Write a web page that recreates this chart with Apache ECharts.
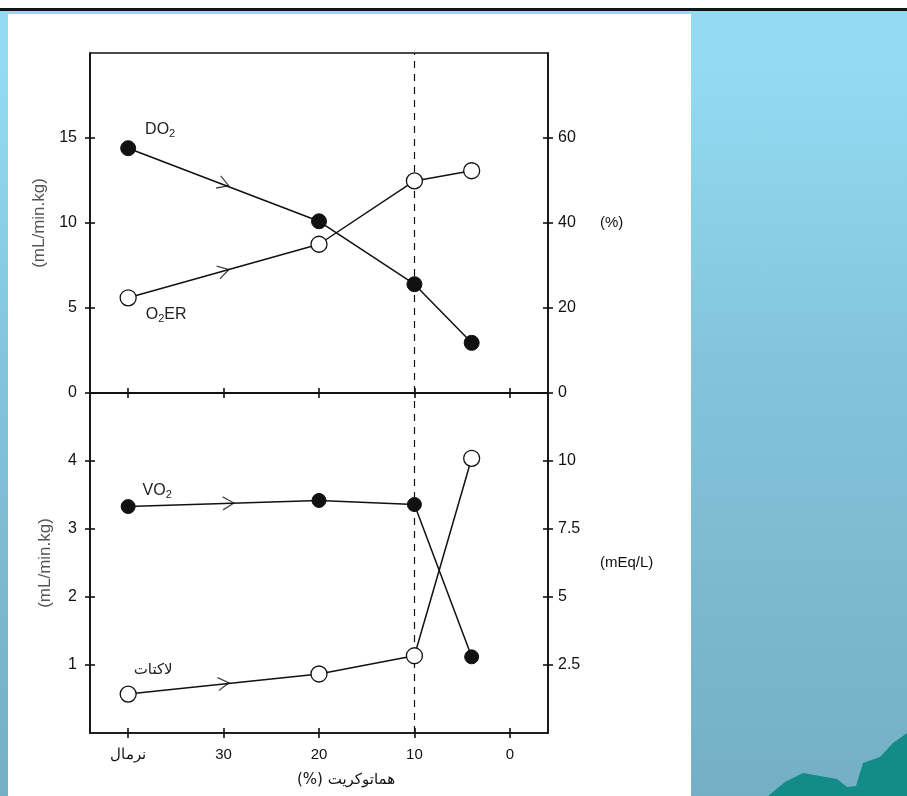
<!DOCTYPE html>
<html>
<head>
<meta charset="utf-8">
<script src="https://cdn.jsdelivr.net/npm/echarts@6/dist/echarts.min.js"></script>
<style>
  body { margin: 0; width: 907px; height: 796px; overflow: hidden; position: relative;
         background: linear-gradient(#93dbf3 0px, #93dbf3 60px, #84c5db 350px, #74afc5 796px); }
  #topWhite { position: absolute; left: 0; top: 0; width: 907px; height: 8px; background: #fff; }
  #topBar { position: absolute; left: 0; top: 8px; width: 907px; height: 3px; background: #151515; }
  #panel { position: absolute; left: 8px; top: 14px; width: 683px; height: 782px; background: #fff; }
  #hill { position: absolute; left: 0; top: 0; width: 907px; height: 796px; background: #138c87;
          clip-path: polygon(768px 796px, 785px 782px, 803px 773px, 820px 776px, 837px 779px, 847px 787px,
                             856px 786px, 863px 763px, 880px 757px, 893px 743px, 907px 733px, 907px 796px); }
  #main { position: absolute; left: 0; top: 0; width: 907px; height: 796px; }
</style>
</head>
<body>
<div id="topWhite"></div>
<div id="topBar"></div>
<div id="panel"></div>
<div id="hill"></div>
<div id="main"></div>
<script>
// hematocrit (%) for each measurement, normal = 40
const hct = [40, 20, 10, 4];
const do2 = [14.4, 10.1, 6.4, 2.95];     // mL/min.kg, left top
const o2er = [22.4, 35.0, 49.9, 52.3];   // %, right top
const vo2 = [3.33, 3.42, 3.36, 1.12];    // mL/min.kg, left bottom
const lactate = [1.43, 2.17, 2.84, 10.1]; // mEq/L, right bottom

const xTicks = [40, 30, 20, 10, 0];
const xTickLabels = ['نرمال', '30', '20', '10', '0'];
const topLeftTicks = [0, 5, 10, 15];
const topRightTicks = [0, 20, 40, 60];
const botLeftTicks = [1, 2, 3, 4];
const botRightTicks = [2.5, 5, 7.5, 10];
const criticalHct = 10; // dashed line

// arrowheads along the lines: [x, y, rotation]
const arrowDO2 = [30, 12.3, -21];
const arrowO2ER = [30, 28.7, 15];
const arrowVO2 = [29.5, 3.38, 2];
const arrowLac = [30, 1.82, 6];

const ink = '#111';
const font = 'Liberation Sans';

const zip = (xs, ys) => xs.map((x, i) => [x, ys[i]]);

function withLabel(points, text, offset) {
  return points.map((p, i) => i === 0 ? {
    value: p,
    label: { show: true, formatter: text, offset: offset, position: 'inside' }
  } : p);
}

const rich = {
  n: { fontSize: 16, color: '#222', fontFamily: font, lineHeight: 20 },
  s: { fontSize: 11, color: '#222', fontFamily: font, lineHeight: 20, padding: [9, 0, 0, 0] },
  fa: { fontSize: 15, color: '#222', fontFamily: 'DejaVu Sans' }
};

function xAxisPair(grid, labels) {
  return [
    {
      gridIndex: grid, type: 'value', inverse: true, min: -4, max: 44, position: 'bottom',
      axisLine: { show: true, onZero: false, lineStyle: { color: ink, width: 1.6 } },
      axisTick: { show: true, inside: true, length: 5, customValues: xTicks, lineStyle: { color: ink, width: 1.6 } },
      axisLabel: { show: false },
      splitLine: { show: false }
    },
    {
      gridIndex: grid, type: 'value', inverse: true, min: -4, max: 44, position: 'bottom',
      axisLine: { show: false, onZero: false },
      axisTick: { show: true, inside: false, length: 5, customValues: xTicks, lineStyle: { color: ink, width: 1.6 } },
      axisLabel: labels ? {
        show: true, customValues: xTicks, margin: 14, fontSize: 15, color: '#111', fontFamily: font,
        formatter: v => xTickLabels[xTicks.indexOf(v)]
      } : { show: false },
      splitLine: { show: false },
      name: labels ? '(%) هماتوکریت' : '',
      nameLocation: 'middle', nameGap: 40,
      nameTextStyle: { fontSize: 15, color: '#111', fontFamily: 'DejaVu Sans', padding: [0, 0, 0, 54] }
    }
  ];
}

function yAxisPair(grid, pos, max, ticks, name, nameOpts) {
  const base = { gridIndex: grid, type: 'value', min: 0, max: max, position: pos, splitLine: { show: false } };
  return [
    Object.assign({}, base, {
      axisLine: { show: true, onZero: false, lineStyle: { color: ink, width: 1.6 } },
      axisTick: { show: true, inside: true, length: 5, customValues: ticks, lineStyle: { color: ink, width: 1.6 } },
      axisLabel: { show: true, customValues: ticks, margin: pos === 'left' ? 13 : 10, fontSize: 16, color: '#111', fontFamily: font },
      name: name
    }, nameOpts),
    Object.assign({}, base, {
      axisLine: { show: false, onZero: false },
      axisTick: { show: true, inside: false, length: 5, customValues: ticks, lineStyle: { color: ink, width: 1.6 } },
      axisLabel: { show: false }
    })
  ];
}

const leftName = {
  nameLocation: 'middle', nameGap: 36, nameRotate: 90,
  nameTextStyle: { fontSize: 17, color: '#555', fontFamily: font }
};
const rightName = {
  nameLocation: 'middle', nameGap: 52, nameRotate: 0,
  nameTextStyle: { fontSize: 15, color: '#111', fontFamily: font, align: 'left' }
};

// dashed line sits on its own series, below the markers
function dashSeries(xi, yi) {
  return {
    type: 'line', xAxisIndex: xi, yAxisIndex: yi, z: 1, data: [],
    markLine: {
      z: 1, silent: true, symbol: 'none', label: { show: false },
      lineStyle: { color: ink, type: [7, 6], width: 1.2 },
      data: [{ xAxis: criticalHct }]
    }
  };
}

const lineStyleBase = { color: ink, width: 1.5 };
const filled = { color: ink, borderColor: ink, borderWidth: 1 };
const open = { color: '#fff', borderColor: ink, borderWidth: 1.3 };

function arrowSeries(xi, yi, a) {
  return {
    type: 'scatter', xAxisIndex: xi, yAxisIndex: yi, z: 4,
    symbol: 'path://M0,0L10,6L0,12', symbolSize: [11, 13], symbolRotate: a[2],
    itemStyle: { color: 'rgba(0,0,0,0)', borderColor: ink, borderWidth: 1.2 },
    data: [[a[0], a[1]]]
  };
}

const chart = echarts.init(document.getElementById('main'), null, { renderer: 'canvas' });
chart.setOption({
  backgroundColor: 'transparent',
  animation: false,
  textStyle: { fontFamily: font },
  grid: [
    { left: 90, width: 458, top: 53, height: 340, show: true, borderColor: ink, borderWidth: 1.6, backgroundColor: 'transparent' },
    { left: 90, width: 458, top: 393, height: 340, show: true, borderColor: ink, borderWidth: 1.6, backgroundColor: 'transparent' }
  ],
  xAxis: [...xAxisPair(0, false), ...xAxisPair(1, true)],
  yAxis: [
    ...yAxisPair(0, 'left', 20, topLeftTicks, '(mL/min.kg)', leftName),
    ...yAxisPair(0, 'right', 80, topRightTicks, '(%)', rightName),
    ...yAxisPair(1, 'left', 5, botLeftTicks, '(mL/min.kg)', leftName),
    ...yAxisPair(1, 'right', 12.5, botRightTicks, '(mEq/L)', rightName)
  ],
  series: [
    dashSeries(0, 0),
    dashSeries(2, 4),
    {
      name: 'DO2', type: 'line', xAxisIndex: 0, yAxisIndex: 0, z: 3,
      symbol: 'circle', symbolSize: 15, itemStyle: filled, lineStyle: lineStyleBase,
      label: { rich: rich },
      data: withLabel(zip(hct, do2), '{n|DO}{s|2}', [32, -19])
    },
    {
      name: 'O2ER', type: 'line', xAxisIndex: 0, yAxisIndex: 2, z: 3,
      symbol: 'circle', symbolSize: 16, itemStyle: open, lineStyle: lineStyleBase,
      label: { rich: rich },
      data: withLabel(zip(hct, o2er), '{n|O}{s|2}{n|ER}', [38, 17])
    },
    {
      name: 'VO2', type: 'line', xAxisIndex: 2, yAxisIndex: 4, z: 3,
      symbol: 'circle', symbolSize: 14, itemStyle: filled, lineStyle: lineStyleBase,
      label: { rich: rich },
      data: withLabel(zip(hct, vo2), '{n|VO}{s|2}', [29, -16])
    },
    {
      name: 'لاکتات', type: 'line', xAxisIndex: 2, yAxisIndex: 6, z: 3,
      symbol: 'circle', symbolSize: 16, itemStyle: open, lineStyle: lineStyleBase,
      label: { rich: rich },
      data: withLabel(zip(hct, lactate), '{fa|لاکتات}', [25, -24])
    },
    arrowSeries(0, 0, arrowDO2),
    arrowSeries(0, 2, arrowO2ER),
    arrowSeries(2, 4, arrowVO2),
    arrowSeries(2, 6, arrowLac)
  ]
});
</script>
</body>
</html>
